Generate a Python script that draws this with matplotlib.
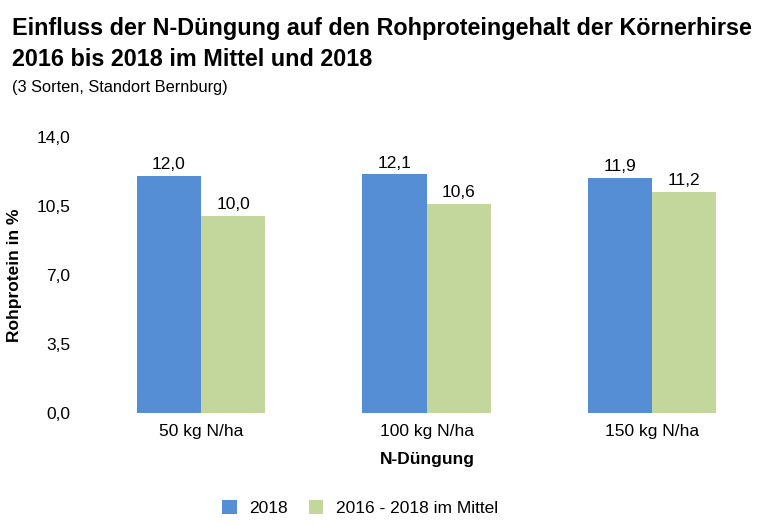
import matplotlib.pyplot as plt
import numpy as np

plt.rcParams['font.family'] = ['Liberation Sans', 'DejaVu Sans']

categories = ['50 kg N/ha', '100 kg N/ha', '150 kg N/ha']
werte_2018 = [12.0, 12.1, 11.9]
werte_mittel = [10.0, 10.6, 11.2]
yticks = [0.0, 3.5, 7.0, 10.5, 14.0]

blue = '#558ed5'
green = '#c3d69b'
fs = 12.5

W, H = 758, 525
fig = plt.figure(figsize=(W / 100, H / 100), dpi=100)

# plot area in pixels: x 90..756, y 137..413
ax = fig.add_axes([90 / W, (H - 413) / H, (756 - 90) / W, (413 - 137) / H])

x = np.arange(len(categories))
bw = 0.284
b1 = ax.bar(x - bw / 2, werte_2018, bw, color=blue, label='2018')
b2 = ax.bar(x + bw / 2, werte_mittel, bw, color=green, label='2016 - 2018 im Mittel')

for bars in (b1, b2):
    for b in bars:
        ax.annotate(f'{b.get_height():.1f}'.replace('.', ','),
                    (b.get_x() + b.get_width() / 2, b.get_height()),
                    xytext=(0, 5), textcoords='offset points',
                    ha='center', va='baseline', fontsize=fs)

ax.set_ylim(0, 14)
ax.set_xlim((90 - 201) / 225.5, (756 - 201) / 225.5)
ax.set_yticks(yticks)
ax.set_yticklabels([f'{v:.1f}'.replace('.', ',') for v in yticks], fontsize=fs)
ax.set_xticks(x)
ax.set_xticklabels(categories, fontsize=fs)
ax.tick_params(length=0)
ax.tick_params(axis='y', pad=14)
ax.tick_params(axis='x', pad=8)
for s in ax.spines.values():
    s.set_visible(False)

fig.text(15 / W, 1 - 275 / H, 'Rohprotein in %', rotation=90, ha='center', va='center',
         fontsize=fs, fontweight='bold')
fig.text(427 / W, 1 - 464 / H, 'N-Düngung', ha='center', va='baseline',
         fontsize=fs, fontweight='bold')

fig.text(12 / W, 1 - 35 / H, 'Einfluss der N-Düngung auf den Rohproteingehalt der Körnerhirse',
         ha='left', va='baseline', fontsize=16.8, fontweight='bold')
fig.text(12 / W, 1 - 66 / H, '2016 bis 2018 im Mittel und 2018',
         ha='left', va='baseline', fontsize=16.8, fontweight='bold')
fig.text(12 / W, 1 - 92 / H, '(3 Sorten, Standort Bernburg)', ha='left', va='baseline', fontsize=11.8)

fig.legend(handles=[b1, b2], loc='center', bbox_to_anchor=(360 / W, 1 - 508 / H),
           ncol=2, frameon=False, fontsize=fs, handlelength=0.85, handleheight=0.85,
           columnspacing=1.2, handletextpad=0.7)

fig.savefig('out.png', dpi=100)
